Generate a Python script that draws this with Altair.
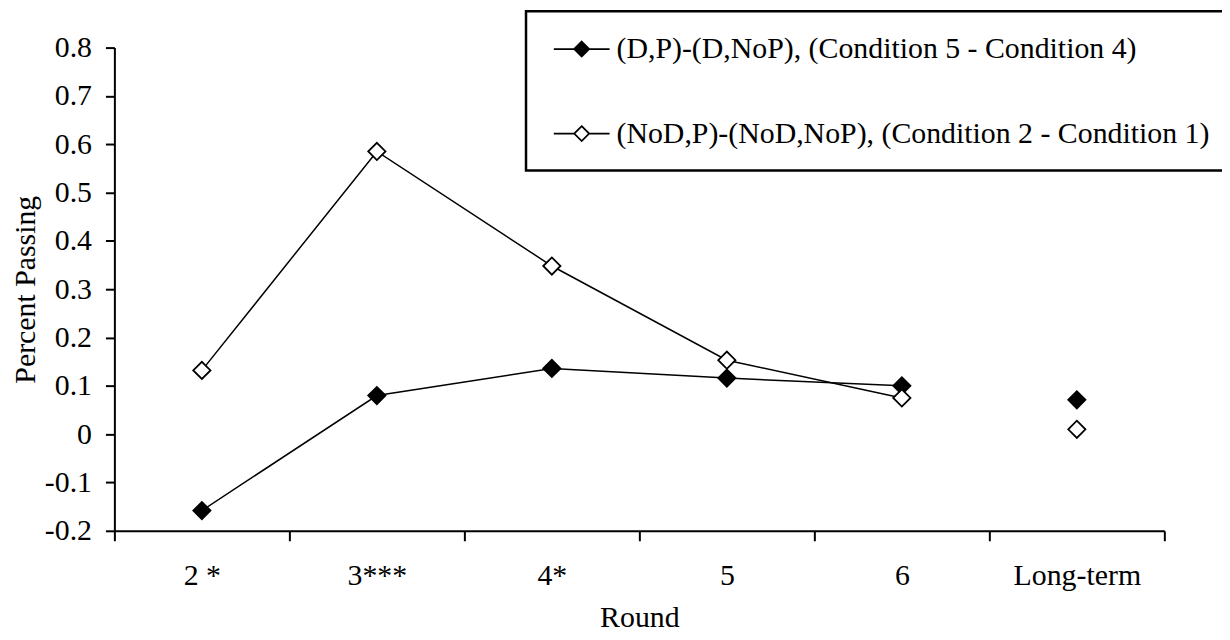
import altair as alt
import pandas as pd

rounds = ["2 *", "3***", "4*", "5", "6", "Long-term"]
series_names = [
    "(D,P)-(D,NoP), (Condition 5 - Condition 4)",
    "(NoD,P)-(NoD,NoP), (Condition 2 - Condition 1)",
]
dp_values = [-0.158, 0.080, 0.136, 0.116, 0.100, 0.071]
nod_values = [0.132, 0.585, 0.348, 0.153, 0.075, 0.010]
connected = [True, True, True, True, True, False]
y_ticks = [-0.2, -0.1, 0.0, 0.1, 0.2, 0.3, 0.4, 0.5, 0.6, 0.7, 0.8]

rows = []
for name, vals in zip(series_names, [dp_values, nod_values]):
    for r, v, c in zip(rounds, vals, connected):
        rows.append({"round": r, "value": v, "series": name, "connected": c})
df = pd.DataFrame(rows)

FONT = "Times New Roman, Liberation Serif, DejaVu Serif, serif"
FS = 30

x_enc = alt.X(
    "round:N",
    sort=rounds,
    bandPosition=0.5,
    scale=alt.Scale(type="band", paddingInner=0, paddingOuter=0),
    axis=alt.Axis(
        title="Round",
        tickBand="extent",
        labelAngle=0,
        tickSize=10,
        labelPadding=20,
        titlePadding=12,
    ),
)

y_enc = alt.Y(
    "value:Q",
    scale=alt.Scale(domain=[-0.2, 0.8], nice=False, zero=False),
    axis=alt.Axis(
        title="Percent Passing",
        values=y_ticks,
        labelExpr="datum.value == 0 ? '0' : toString(round(datum.value*10)/10)",
        tickSize=9,
        labelPadding=14,
        titlePadding=4,
    ),
)

legend_symbol = "M-1.87,0L-0.5,0M0.5,0L1.87,0M0,-0.5L0.5,0L0,0.5L-0.5,0Z"

lines = (
    alt.Chart(df)
    .transform_filter("datum.connected")
    .mark_line(color="black", strokeWidth=1.5)
    .encode(x=x_enc, y=y_enc, detail="series:N")
)

points = (
    alt.Chart(df)
    .mark_point(shape="diamond", size=300, filled=True, stroke="black", strokeWidth=1.8, opacity=1)
    .encode(
        x=x_enc,
        y=y_enc,
        fill=alt.Fill(
            "series:N",
            scale=alt.Scale(domain=series_names, range=["black", "white"]),
            legend=alt.Legend(
                title=None,
                orient="none",
                legendX=414,
                legendY=-36.5,
                symbolType=legend_symbol,
                symbolSize=900,
                symbolOffset=18,
                symbolStrokeColor="black",
                symbolStrokeWidth=1.8,
                labelFont=FONT,
                labelFontSize=FS,
                labelColor="black",
                labelLimit=1000,
                labelOffset=19,
                rowPadding=54,
                padding=22,
                strokeColor="black",
            ),
        ),
    )
)

chart = (
    alt.layer(lines, points)
    .properties(
        width=1056,
        height=486,
        autosize=alt.AutoSizeParams(type="none"),
        padding={"left": 107, "top": 38, "right": 58, "bottom": 108},
        background="white",
    )
    .configure_view(stroke=None)
    .configure_legend(strokeWidth=2.5)
    .configure_axis(
        domainColor="black",
        tickColor="black",
        domainWidth=2,
        tickWidth=2,
        labelFont=FONT,
        labelFontSize=FS,
        labelColor="black",
        titleFont=FONT,
        titleFontSize=FS,
        titleFontWeight="normal",
        titleColor="black",
        grid=False,
    )
)

chart.save("out.html", embed_options={"renderer": "svg", "actions": False})
